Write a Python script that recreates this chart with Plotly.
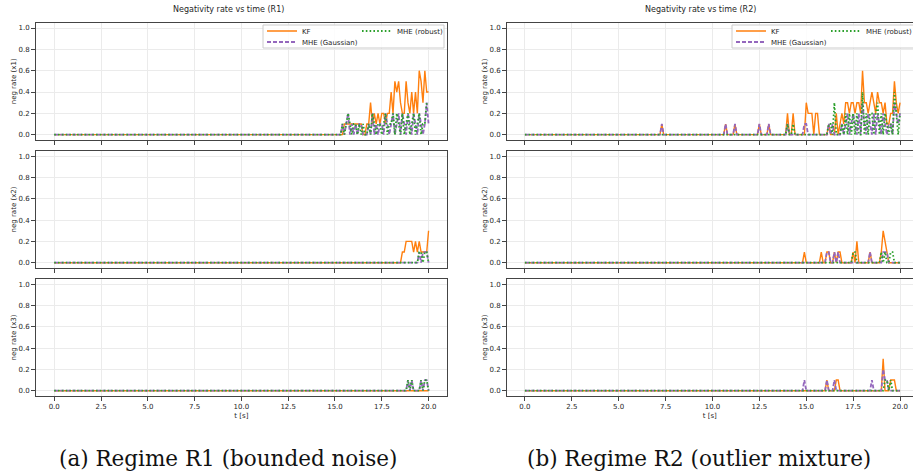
import plotly.graph_objects as go

# ---------------- data ----------------
N_SAMPLES = 201          # t = 0.0 ... 20.0 s, step 0.1 s
T_STEP = 0.1
t_values = [round(i * T_STEP, 1) for i in range(N_SAMPLES)]

x_ticks = [0.0, 2.5, 5.0, 7.5, 10.0, 12.5, 15.0, 17.5, 20.0]
y_ticks = [0.0, 0.2, 0.4, 0.6, 0.8, 1.0]
series_names = ["KF", "MHE (Gaussian)", "MHE (robust)"]
state_labels = ["neg rate (x1)", "neg rate (x2)", "neg rate (x3)"]
panel_titles = ["Negativity rate vs time (R1)", "Negativity rate vs time (R2)"]
captions = ["(a) Regime R1 (bounded noise)", "(b) Regime R2 (outlier mixture)"]

# non-zero samples (t, rate); every other sample is 0
r1_x1_kf = [(15.5, .1), (15.6, .1), (15.7, .1), (15.8, .1), (15.9, .1), (16.0, .1), (16.1, .1),
            (16.2, .1), (16.3, .1), (16.4, .1), (16.7, .1), (16.8, .1), (16.9, .3), (17.0, .1),
            (17.1, .2), (17.2, .1), (17.3, .2), (17.4, .1), (17.5, .2), (17.6, .2), (17.7, .1),
            (17.8, .2), (17.9, .2), (18.0, .4), (18.1, .2), (18.2, .5), (18.3, .4), (18.4, .5),
            (18.5, .3), (18.6, .2), (18.7, .2), (18.8, .5), (18.9, .3), (19.0, .2), (19.1, .4),
            (19.2, .2), (19.3, .4), (19.4, .2), (19.5, .6), (19.6, .5), (19.7, .3), (19.8, .6),
            (19.9, .4), (20.0, .4)]
r1_x1_gauss = [(15.4, .1), (15.6, .1), (15.7, .2), (15.9, .1), (16.1, .1), (16.3, .1), (16.4, .1),
               (16.8, .1), (17.0, .2), (17.2, .1), (17.4, .1), (17.5, .1), (17.7, .2), (17.8, .1),
               (18.0, .1), (18.1, .2), (18.3, .1), (18.4, .2), (18.6, .2), (18.7, .1), (18.9, .2),
               (19.0, .1), (19.2, .2), (19.3, .1), (19.5, .2), (19.6, .1), (19.8, .1), (19.9, .3),
               (20.0, .1)]
r1_x1_robust = [(15.4, .1), (15.6, .1), (15.7, .2), (15.8, .1), (16.0, .1), (16.1, .1), (16.3, .1),
                (16.5, .1), (16.8, .1), (17.0, .2), (17.1, .1), (17.3, .1), (17.4, .1), (17.6, .1),
                (17.7, .2), (17.9, .1), (18.0, .1), (18.1, .2), (18.3, .2), (18.4, .1), (18.6, .2),
                (18.8, .1), (18.9, .2), (19.1, .1), (19.2, .2), (19.4, .1), (19.5, .2), (19.7, .1),
                (19.8, .1), (19.9, .3), (20.0, .3)]

r1_x2_kf = [(18.6, .1), (18.7, .1), (18.8, .2), (18.9, .2), (19.0, .2), (19.1, .2), (19.2, .1),
            (19.3, .2), (19.4, .1), (19.5, .2), (19.6, .1), (19.7, .1), (19.8, .1), (19.9, .1),
            (20.0, .3)]
r1_x2_gauss = [(19.5, .1), (19.7, .1), (19.8, .1), (19.9, .1)]
r1_x2_robust = [(19.5, .1), (19.6, .1), (19.8, .1), (19.9, .1)]

r1_x3_kf = []
r1_x3_gauss = [(18.9, .1), (19.1, .1), (19.6, .1), (19.8, .1), (19.9, .1)]
r1_x3_robust = [(18.9, .1), (19.1, .1), (19.6, .1), (19.8, .1), (19.9, .1)]

r2_x1_kf = [(7.3, .1), (10.7, .1), (11.2, .1), (12.5, .1), (13.0, .1), (14.0, .2), (14.3, .2),
            (15.0, .3), (15.1, .2), (15.2, .2), (15.3, .2), (15.5, .2), (15.6, .2), (16.2, .1),
            (16.6, .2), (16.8, .1), (16.9, .2), (17.0, .1), (17.1, .3), (17.2, .3), (17.3, .2),
            (17.4, .3), (17.5, .3), (17.6, .2), (17.7, .3), (17.8, .3), (17.9, .2), (18.0, .6),
            (18.1, .3), (18.2, .3), (18.3, .2), (18.4, .3), (18.5, .4), (18.6, .3), (18.7, .2),
            (18.8, .4), (18.9, .3), (19.0, .3), (19.1, .2), (19.2, .3), (19.3, .1), (19.4, .1),
            (19.5, .2), (19.6, .2), (19.7, .5), (19.8, .3), (19.9, .2), (20.0, .3)]
r2_x1_gauss = [(7.3, .1), (10.7, .1), (11.2, .1), (12.5, .1), (13.0, .1), (14.0, .1), (14.9, .1),
               (15.0, .1), (16.2, .1), (16.4, .1), (16.9, .1), (17.1, .1), (17.2, .2), (17.4, .1),
               (17.5, .2), (17.6, .1), (17.8, .2), (18.0, .3), (18.1, .1), (18.3, .2), (18.4, .1),
               (18.6, .2), (18.8, .2), (18.9, .1), (19.1, .2), (19.2, .1), (19.4, .1), (19.5, .1),
               (19.7, .3), (19.8, .2), (19.9, .1), (20.0, .2)]
r2_x1_robust = [(14.0, .1), (14.3, .1), (16.2, .1), (16.3, .1), (16.5, .3), (16.9, .1), (17.1, .2),
                (17.3, .2), (17.5, .2), (17.7, .2), (18.0, .4), (18.2, .2), (18.4, .2), (18.5, .2),
                (18.7, .2), (18.8, .3), (19.0, .2), (19.2, .2), (19.3, .1), (19.5, .1), (19.7, .4),
                (19.8, .2), (20.0, .2)]

r2_x2_kf = [(14.9, .1), (15.8, .1), (16.1, .1), (16.2, .1), (16.5, .1), (16.7, .1), (16.8, .1),
            (17.5, .1), (17.7, .2), (18.4, .1), (19.0, .1), (19.1, .3), (19.2, .2), (19.3, .1)]
r2_x2_gauss = [(16.1, .1), (16.2, .1), (16.5, .1), (16.7, .1), (18.4, .1), (19.1, .1), (19.2, .1),
               (19.3, .1)]
r2_x2_robust = [(17.5, .1), (17.6, .1), (19.0, .1), (19.2, .1), (19.5, .1), (19.6, .1)]

r2_x3_kf = [(16.1, .1), (16.6, .1), (16.7, .1), (19.1, .3), (19.5, .1), (19.6, .1), (19.7, .1)]
r2_x3_gauss = [(14.9, .1), (16.1, .1), (16.5, .1), (18.5, .1), (19.1, .2), (19.2, .1), (19.3, .1)]
r2_x3_robust = [(19.2, .1), (19.3, .1), (19.5, .1)]

panels = [
    [[r1_x1_kf, r1_x1_gauss, r1_x1_robust],
     [r1_x2_kf, r1_x2_gauss, r1_x2_robust],
     [r1_x3_kf, r1_x3_gauss, r1_x3_robust]],
    [[r2_x1_kf, r2_x1_gauss, r2_x1_robust],
     [r2_x2_kf, r2_x2_gauss, r2_x2_robust],
     [r2_x3_kf, r2_x3_gauss, r2_x3_robust]],
]


def full_series(pairs):
    vals = [0.0] * N_SAMPLES
    for tt, v in pairs:
        vals[int(round(tt / T_STEP))] = v
    return vals


# ---------------- styling ----------------
W, H = 913, 475
colors = ["#ff7f0e", "#9467bd", "#2ca02c"]
dashes = ["solid", "4px,2px", "1.6px,2.2px"]
widths = [1.4, 1.8, 1.8]
FONT = "DejaVu Sans"
TXT = "#262626"

# pixel geometry
x_dom_px = [(35.5, 447.3), (506.5, 913.0)]
x_rng = [[-1.0, 21.0], [-0.98, 20.69]]
y_dom_px = [(22.7, 140.0), (151.0, 268.0), (279.0, 396.0)]
legend_x_px = [262.0, 731.0]          # left edge of each panel's legend
legend_box_right_px = [444.0, 930.0]
legend_box_y_px = (25.0, 48.0)
legend_row_y_px = [31.0, 42.0]
# row 1 of the legend: KF + MHE (robust); row 2: MHE (Gaussian)
row_of_series = [0, 1, 0]
legend_names = [["legend", "legend2"], ["legend3", "legend4"]]

fig = go.Figure()

for p in range(2):
    for r in range(3):
        n = p * 3 + r + 1
        xa = "x" if n == 1 else f"x{n}"
        ya = "y" if n == 1 else f"y{n}"
        for s in range(3):
            fig.add_trace(go.Scatter(
                x=t_values, y=full_series(panels[p][r][s]),
                xaxis=xa, yaxis=ya, mode="lines",
                name=series_names[s],
                line=dict(color=colors[s], dash=dashes[s], width=widths[s]),
                showlegend=(r == 0),
                legend=legend_names[p][row_of_series[s]],
                legendrank=1 if s == 0 else 2,
                hoverinfo="skip",
            ))
        xd = x_dom_px[p]
        yd = y_dom_px[r]
        axis_common = dict(
            showline=True, mirror=True, linecolor="#444444", linewidth=1,
            ticks="outside", ticklen=3.5, tickwidth=0.8, tickcolor="#444444",
            showgrid=True, gridcolor="#ebebeb", gridwidth=0.8, zeroline=False,
            tickfont=dict(family=FONT, size=7, color=TXT),
        )
        fig.layout[f"xaxis{'' if n == 1 else n}"] = dict(
            axis_common,
            domain=[xd[0] / W, xd[1] / W], range=x_rng[p], anchor=ya,
            tickvals=x_ticks, ticktext=[f"{v:.1f}" for v in x_ticks],
            showticklabels=(r == 2),
            title=dict(text="t [s]", font=dict(family=FONT, size=7, color=TXT), standoff=3) if r == 2 else None,
        )
        fig.layout[f"yaxis{'' if n == 1 else n}"] = dict(
            axis_common,
            domain=[1 - yd[1] / H, 1 - yd[0] / H], range=[-0.05, 1.05], anchor=xa,
            tickvals=y_ticks, ticktext=[f"{v:.1f}" for v in y_ticks],
            title=dict(text=state_labels[r], font=dict(family=FONT, size=7, color=TXT), standoff=1),
        )

legend_common = dict(
    orientation="h", xanchor="left", yanchor="middle",
    font=dict(family=FONT, size=7, color=TXT),
    bgcolor="rgba(0,0,0,0)", borderwidth=0,
    itemwidth=30, tracegroupgap=0,
)
legend_layout = {}
for p in range(2):
    for row in range(2):
        cfg = dict(legend_common, x=legend_x_px[p] / W, y=1 - legend_row_y_px[row] / H)
        if row == 0:
            cfg.update(entrywidth=50, entrywidthmode="pixels")
        legend_layout[legend_names[p][row]] = cfg

fig.update_layout(
    width=W, height=H, margin=dict(l=0, r=0, t=0, b=0, autoexpand=False),
    paper_bgcolor="white", plot_bgcolor="white",
    **legend_layout,
)

# legend frames (white, semi-opaque like matplotlib's legend box)
for p in range(2):
    fig.add_shape(type="rect", xref="paper", yref="paper",
                  x0=(legend_x_px[p] + 1) / W, x1=legend_box_right_px[p] / W,
                  y0=1 - legend_box_y_px[1] / H, y1=1 - legend_box_y_px[0] / H,
                  fillcolor="rgba(255,255,255,0.85)", line=dict(color="#cccccc", width=1),
                  layer="above")

title_x_px = [228.7, 700.0]
caption_x_px = [228.0, 699.0]
for p in range(2):
    fig.add_annotation(text=panel_titles[p], xref="paper", yref="paper",
                       x=title_x_px[p] / W, y=1 - 10 / H, showarrow=False,
                       xanchor="center", yanchor="middle",
                       font=dict(family=FONT, size=8, color=TXT))
    fig.add_annotation(text=captions[p], xref="paper", yref="paper",
                       x=caption_x_px[p] / W, y=1 - 458 / H, showarrow=False,
                       xanchor="center", yanchor="middle",
                       font=dict(family="DejaVu Serif", size=21.5, color="#111111"))

fig.write_html("out.html", config={"displayModeBar": False},
               post_script="document.body.style.margin='0px';")
